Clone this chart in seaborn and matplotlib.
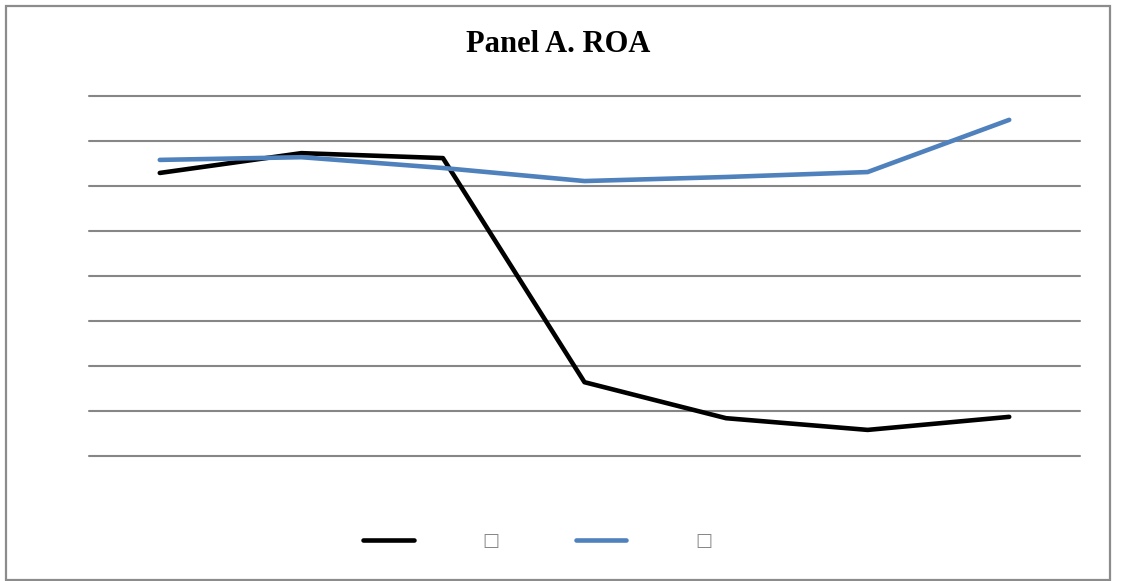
import pandas as pd
import matplotlib.pyplot as plt
import matplotlib.patches as mpatches
import seaborn as sns

# data (no tick labels shown, arbitrary units)
periods = ['1', '2', '3', '4', '5', '6', '7']
series_names = ['\u25a1 ', '\u25a1']
black_vals = [6.29, 6.73, 6.62, 1.64, 0.84, 0.58, 0.87]
blue_vals = [6.58, 6.64, 6.40, 6.11, 6.20, 6.31, 7.47]
colors = ['#000000', '#4f81bd']

d = pd.DataFrame({'period': periods * 2,
                  'value': black_vals + blue_vals,
                  'series': [series_names[0]] * 7 + [series_names[1]] * 7})

sns.set_style('white')
fig = plt.figure(figsize = (11.25, 5.81), dpi = 100)
ax = fig.add_axes([89/1125, 1 - 456/581, (1080 - 89)/1125, 360/581])

sns.lineplot(data = d, x = 'period', y = 'value', hue = 'series',
             palette = colors, linewidth = 3.3, ax = ax, sort = False)

ax.set_xlim(-0.5, 6.5)
ax.set_ylim(0, 8)
ax.set_yticks(range(0, 9))
ax.yaxis.grid(True, color = '#868686', linewidth = 1.5)
for gl in ax.get_ygridlines():
    gl.set_clip_on(False)
ax.xaxis.grid(False)
ax.set_xticks([])
ax.set_yticklabels([])
ax.tick_params(left = False, bottom = False)
for s in ax.spines.values():
    s.set_visible(False)
ax.set_xlabel('')
ax.set_ylabel('')

fig.text(558/1125, 1 - 45/581, 'Panel A. ROA', ha = 'center', va = 'center',
         family = 'Liberation Serif', weight = 'bold', fontsize = 22, color = 'black')

# legend at the bottom
handles, labels = ax.get_legend_handles_labels()
ax.get_legend().remove()
leg = fig.legend(handles, labels, loc = 'center', bbox_to_anchor = (538/1125, 1 - 541/581),
                 ncol = 2, frameon = False, fontsize = 13, handlelength = 2.8,
                 handletextpad = 3.85, columnspacing = 3.85)
for line in leg.get_lines():
    line.set_linewidth(3.3)
    line.set_solid_capstyle('round')
for t in leg.get_texts():
    t.set_color('#888888')

# outer frame
fig.patches.append(mpatches.Rectangle((6/1125, 1 - 580/581), 1104/1125, 574/581,
                                      transform = fig.transFigure, fill = False,
                                      edgecolor = '#8c8c8c', linewidth = 1.6))

plt.savefig('out.png', dpi = 100)
